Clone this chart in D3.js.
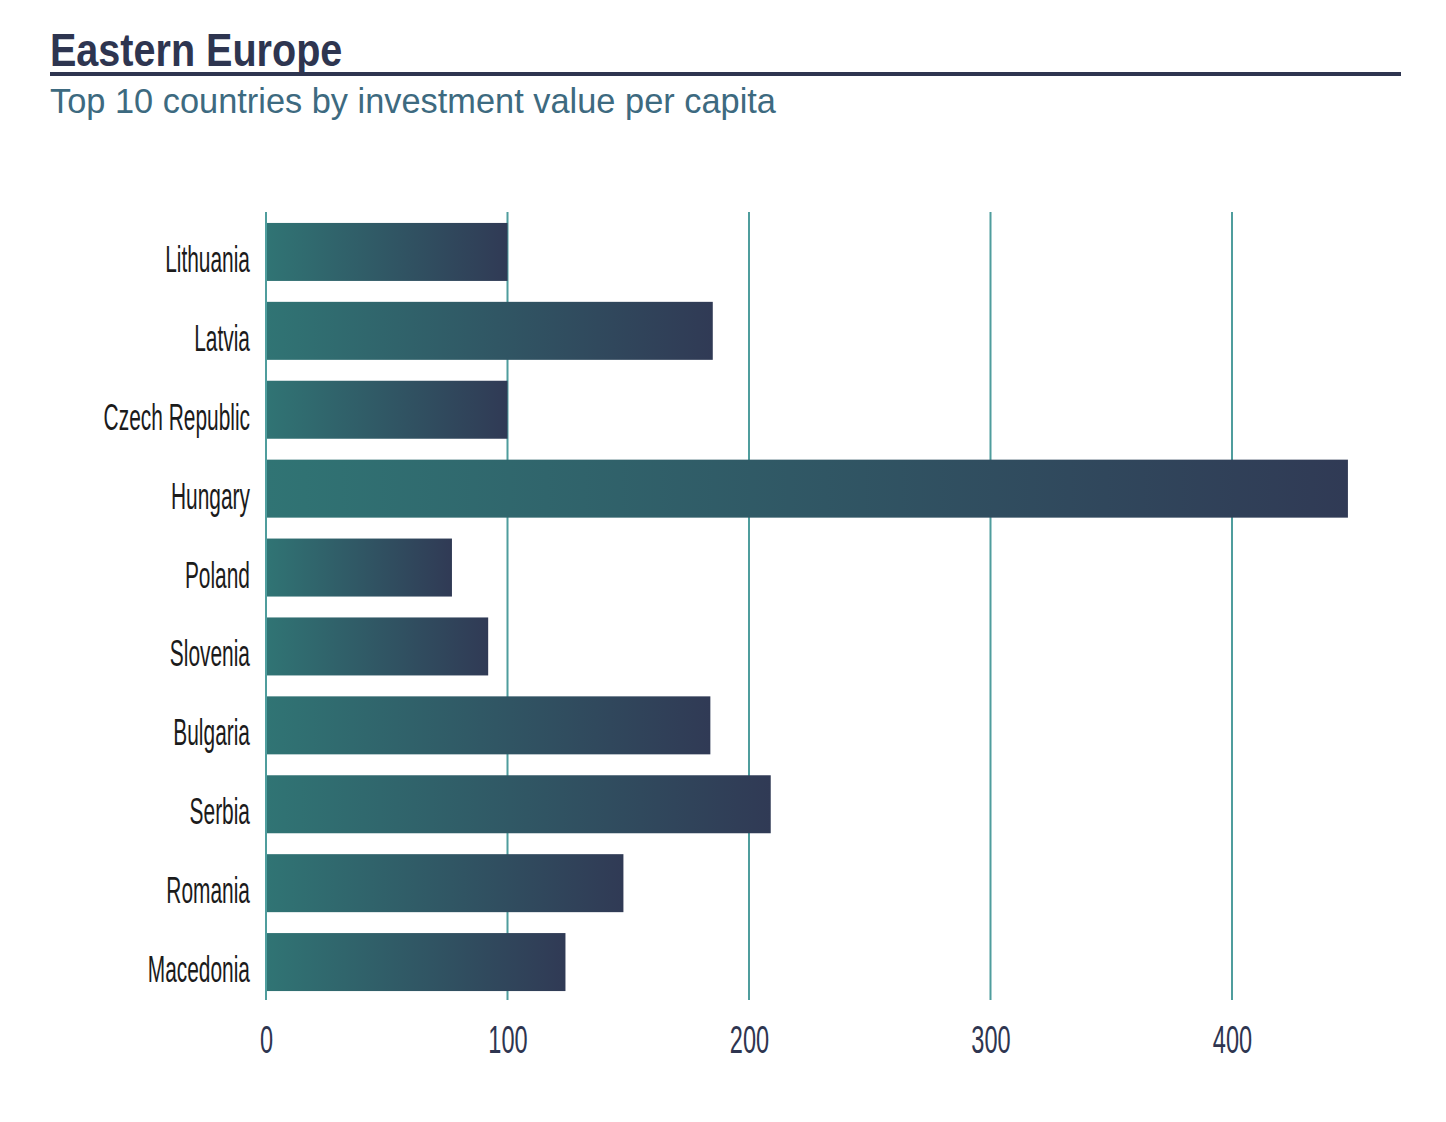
<!DOCTYPE html>
<html>
<head>
<meta charset="utf-8">
<script src="https://cdn.jsdelivr.net/npm/d3@7/dist/d3.min.js"></script>
<style>
  body { margin: 0; background: #fff; }
  svg { display: block; }
</style>
</head>
<body>
<svg id="chart" width="1446" height="1122"></svg>
<script>
// chart data
var countries = ["Lithuania", "Latvia", "Czech Republic", "Hungary", "Poland",
                 "Slovenia", "Bulgaria", "Serbia", "Romania", "Macedonia"];
var values = [100, 185, 100, 448, 77, 92, 184, 209, 148, 124];
var tickValues = [0, 100, 200, 300, 400];

var title = "Eastern Europe";
var subtitle = "Top 10 countries by investment value per capita";

var svg = d3.select("#chart");
var sans = "'Liberation Sans', Arial, sans-serif";

// squeeze text horizontally around its anchor point (no condensed face installed)
function squeeze(sel, ax, k) {
  sel.attr("transform", "translate(" + ax + ",0) scale(" + k + ",1) translate(" + (-ax) + ",0)");
}

/*
 * header: title, rule, subtitle
 */
svg.append("text")
  .attr("x", 50).attr("y", 66)
  .attr("fill", "#2e3550")
  .style("font-family", sans)
  .style("font-weight", "bold")
  .style("font-size", "46px")
  .text(title)
  .call(squeeze, 50, 0.86);

svg.append("rect")
  .attr("x", 50).attr("y", 72)
  .attr("width", 1351).attr("height", 4)
  .attr("fill", "#2e3550");

svg.append("text")
  .attr("x", 50).attr("y", 113)
  .attr("fill", "#3d6a80")
  .style("font-family", sans)
  .style("font-size", "36px")
  .text(subtitle)
  .call(squeeze, 50, 0.955);

// scales
var x = d3.scaleLinear().domain([0, 100]).range([266, 507.5]);
var y = d3.scaleBand()
  .domain(countries)
  .range([213, 1001])
  .paddingInner(0.265)
  .paddingOuter(0.126);

// gradient for bars
var grad = svg.append("defs").append("linearGradient")
  .attr("id", "barGrad")
  .attr("x1", "0%").attr("x2", "100%")
  .attr("y1", "0%").attr("y2", "0%");
grad.append("stop").attr("offset", "0%").attr("stop-color", "#307474");
grad.append("stop").attr("offset", "100%").attr("stop-color", "#303a55");

// grid lines
svg.append("g").selectAll("line")
  .data(tickValues)
  .enter().append("line")
  .attr("x1", function(d){ return x(d); })
  .attr("x2", function(d){ return x(d); })
  .attr("y1", 212).attr("y2", 1000)
  .attr("stroke", "#4f9d9d")
  .attr("stroke-width", 2);

// bars
svg.append("g").selectAll("rect")
  .data(values)
  .enter().append("rect")
  .attr("x", x(0) + 1)
  .attr("y", function(d, i){ return y(countries[i]); })
  .attr("width", function(d){ return x(d) - x(0) - 1; })
  .attr("height", y.bandwidth())
  .attr("fill", "url(#barGrad)");

// country labels
var yAxis = svg.append("g")
  .attr("transform", "translate(250,0)")
  .call(d3.axisLeft(y).tickSize(0).tickPadding(0));
yAxis.select(".domain").remove();
yAxis.selectAll("text")
  .attr("fill", "#1b1b1b")
  .attr("x", 0)
  .attr("dy", "20px")
  .style("font-family", sans)
  .style("font-size", "37px")
  .attr("transform", "scale(0.565,1)");

// value ticks
var xAxis = svg.append("g")
  .attr("transform", "translate(0,1053)")
  .call(d3.axisBottom(x).tickValues(tickValues).tickSize(0).tickPadding(0));
xAxis.select(".domain").remove();
xAxis.selectAll("text")
  .attr("fill", "#2e3550")
  .attr("dy", "0")
  .style("font-family", sans)
  .style("font-size", "38px")
  .attr("transform", "scale(0.62,1)");
</script>
</body>
</html>
